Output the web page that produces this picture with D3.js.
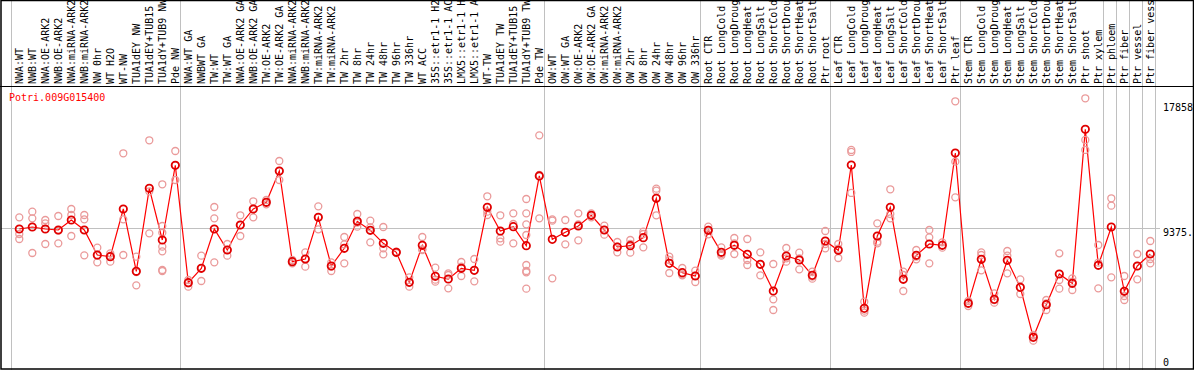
<!DOCTYPE html>
<html>
<head>
<meta charset="utf-8">
<script src="https://cdn.jsdelivr.net/npm/d3@7"></script>
<style>
  body { margin: 0; background: #fff; }
  text { font-family: "DejaVu Sans Mono", monospace; font-size: 10px; }
</style>
</head>
<body>
<div id="chart"></div>
<script>
const geneId = "Potri.009G015400";

const samples = [
  "NWA:WT", "NWB:WT", "NWA:OE-ARK2", "NWB:OE-ARK2", "NWA:miRNA-ARK2", "NWB:miRNA-ARK2",
  "NW 0hr", "WT H2O", "WT-NW", "TUA1dEY NW", "TUA1dEY+TUB15 NW", "TUA1dY+TUB9 NW", "Pde NW",
  "NWA:WT GA", "NWBWT GA", "TW:WT", "TW:WT GA", "NWA:OE-ARK2 GA", "NWB:OE-ARK2 GA",
  "TW:OE-ARK2", "TW:OE-ARK2 GA", "NWA:miRNA-ARK2", "NWB:miRNA-ARK2", "TW:miRNA-ARK2",
  "TW:miRNA-ARK2", "TW 2hr", "TW 8hr", "TW 24hr", "TW 48hr", "TW 96hr", "TW 336hr",
  "WT ACC", "35S::etr1-1 H2O", "35S::etr1-1 ACC", "LMX5::etr1-1 H2O", "LMX5::etr1-1 ACC",
  "WT-TW", "TUA1dEY TW", "TUA1dEY+TUB15 TW", "TUA1dY+TUB9 TW", "Pde TW",
  "OW:WT", "OW:WT GA", "OW:OE-ARK2", "OW:OE-ARK2 GA", "OW:miRNA-ARK2", "OW:miRNA-ARK2",
  "OW 2hr", "OW 8hr", "OW 24hr", "OW 48hr", "OW 96hr", "OW 336hr",
  "Root CTR", "Root LongCold", "Root LongDrought", "Root LongHeat", "Root LongSalt",
  "Root ShortCold", "Root ShortDrought", "Root ShortHeat", "Root ShortSalt", "Ptr root",
  "Leaf CTR", "Leaf LongCold", "Leaf LongDrought", "Leaf LongHeat", "Leaf LongSalt",
  "Leaf ShortCold", "Leaf ShortDrought", "Leaf ShortHeat", "Leaf ShortSalt", "Ptr leaf",
  "Stem CTR", "Stem LongCold", "Stem LongDrought", "Stem LongHeat", "Stem LongSalt",
  "Stem ShortCold", "Stem ShortDrought", "Stem ShortHeat", "Stem ShortSalt", "Ptr shoot",
  "Ptr xylem", "Ptr phloem", "Ptr fiber", "Ptr vessel", "Ptr fiber vessel"
];

const means = [
  9310, 9440, 9310, 9244, 9898, 9244, 7609, 7500, 10618, 6540, 11970, 8590, 13475,
  5799, 6736, 9310, 7936, 9571, 10618, 11054, 13104, 7172, 7347, 10073, 6889, 8045,
  9811, 9222, 8372, 7783, 5820, 8241, 6213, 6038, 6736, 6605, 10727, 9179, 9462, 8219, 12777,
  8633, 9091, 9506, 10204, 9244, 8132, 8219, 8743, 11316, 7063, 6453, 6235,
  9222, 7783, 8241, 7652, 6998, 5253, 7543, 7281, 6278, 8524,
  7914, 13496, 4119, 8852, 10727, 6017, 7587, 8328, 8241, 14281,
  4447, 7325, 4708, 7260, 5493, 2222, 4359, 6366, 5755, 15830,
  6933, 9440, 5232, 6889, 7674
];

const replicates = [
  [10073, 8982, 8655], [10443, 10007, 7739], [9898, 9680, 8328], [10160, 9200, 8372],
  [10618, 10225, 8852], [10225, 9942, 7587], [8088, 7565, 7129], [7718, 7565, 7172],
  [14260, 9942, 7609], [7500, 6496, 5624], [15110, 11774, 9026],
  [12232, 9506, 9070, 8154, 7848, 6627, 6562], [14412, 13475, 12515],
  [5973, 5755, 5537], [7565, 6736, 5908], [10749, 10007, 7129], [8328, 7936, 7565],
  [10204, 9571, 8852], [11120, 10618, 10073], [11207, 11054, 10923], [13758, 13104, 12515],
  [7281, 7172, 7063], [7783, 7347, 6845], [10792, 10073, 9288], [7129, 6845, 6562],
  [8786, 8306, 7063], [10291, 9724, 9462], [9855, 9418, 8437], [9440, 8045, 7652],
  [7827, 7783, 7739], [6148, 5820, 5537], [8786, 7979, 7936], [6780, 5995, 5864],
  [6409, 6300, 5428], [7151, 6845, 6235], [7347, 6605, 5886], [11447, 10443, 10225],
  [10204, 8699, 8481], [10334, 9637, 8372],
  [11272, 10334, 9615, 8917, 6954, 6562, 6475, 5406], [15437, 12842, 10007],
  [9942, 9855, 6082], [9898, 9091, 8306], [10334, 9615, 8568], [10334, 10204, 10073],
  [9528, 9244, 8939], [8459, 8154, 7783], [8590, 8328, 7761], [9135, 8982, 8110],
  [11948, 11817, 10204], [7500, 7281, 6431], [6758, 6344, 6278], [6584, 6256, 5842],
  [9462, 9244, 8961], [8110, 7652, 7565], [8721, 8372, 7674], [8655, 7281, 6954],
  [7783, 6998, 6278], [7020, 4708, 4010], [8067, 7391, 7172], [7761, 7391, 6671],
  [6518, 6191, 6060], [9179, 8328, 8045],
  [8328, 8023, 7412], [14478, 14347, 11665], [4556, 3967, 3836], [9680, 8481, 8372],
  [11905, 10291, 10007], [6518, 6300, 5253], [7936, 7500, 7325], [9244, 8764, 7063],
  [8437, 8263, 8088], [17662, 13715, 11381],
  [4599, 4447, 4272], [7783, 7609, 6605], [5101, 4665, 4490], [7870, 7565, 6409],
  [6017, 5472, 5057], [2375, 2266, 2004], [4665, 4447, 4010], [7718, 5973, 5406],
  [6082, 5864, 5319], [17858, 15132, 14478],
  [8263, 7107, 5428], [11316, 10836, 6148], [6235, 5253, 4926, 4665],
  [7674, 6889, 6017], [8524, 7347, 7063]
];

// last sample index of each block, a grey rule is drawn after it
const groupEnds = [-1, 12, 40, 52, 62, 72, 83, 84, 85, 86, 87];

const yTicks = [0, 9375, 17858];
const yTickLabels = ["0", "9375.", "17858"];

const width = 1194;
const height = 370;
const headerBottom = 86;

const svg = d3.select("#chart").append("svg")
  .attr("width", width)
  .attr("height", height)
  .style("display", "block");

svg.append("rect")
  .attr("width", width)
  .attr("height", height)
  .attr("fill", "#fff");

const x = d3.scalePoint()
  .domain(d3.range(samples.length))
  .range([19.3, 19.3 + 13 * (samples.length - 1)]);

const y = d3.scaleLinear()
  .domain([0, 17858])
  .range([371.3, 98.3]);

// grey block separators, full height
svg.selectAll("line.sep")
  .data(groupEnds)
  .enter()
  .append("line")
  .attr("class", "sep")
  .attr("x1", d => Math.round(x(0) + x.step() * d + 5) + 0.5)
  .attr("x2", d => Math.round(x(0) + x.step() * d + 5) + 0.5)
  .attr("y1", 0)
  .attr("y2", height)
  .attr("stroke", "#c0c0c0")
  .attr("stroke-width", 1);

// grid line at the middle tick
svg.append("line")
  .attr("x1", 1)
  .attr("x2", 1160)
  .attr("y1", Math.round(y(9375)) + 0.5)
  .attr("y2", Math.round(y(9375)) + 0.5)
  .attr("stroke", "#c0c0c0");

// frame
svg.append("rect")
  .attr("x", 1)
  .attr("y", 0.5)
  .attr("width", width - 1.5)
  .attr("height", height - 1.5)
  .attr("fill", "none")
  .attr("stroke", "#000")
  .attr("stroke-width", 1.5);

svg.append("line")
  .attr("x1", 0)
  .attr("x2", width)
  .attr("y1", headerBottom + 0.5)
  .attr("y2", headerBottom + 0.5)
  .attr("stroke", "#000");

// rotated sample names
svg.selectAll("text.sample")
  .data(samples)
  .enter()
  .append("text")
  .attr("class", "sample")
  .attr("transform", (d, i) => `translate(${x(i) + 3.7},${headerBottom - 2}) rotate(-90)`)
  .attr("fill", "#000")
  .text(d => d);

svg.append("text")
  .attr("x", 9)
  .attr("y", 101)
  .attr("fill", "#ff0000")
  .text(geneId);

svg.selectAll("text.ytick")
  .data(yTicks)
  .enter()
  .append("text")
  .attr("class", "ytick")
  .attr("x", 1163)
  .attr("y", d => Math.min(366, Math.max(111, y(d) + 8)))
  .attr("fill", "#000")
  .text((d, i) => yTickLabels[i]);

const line = d3.line()
  .x((d, i) => x(i))
  .y(d => y(d));

svg.append("path")
  .datum(means)
  .attr("d", line)
  .attr("fill", "none")
  .attr("stroke", "#ff0000")
  .attr("stroke-width", 1.2);

const repPoints = replicates.flatMap((vals, i) => vals.map(v => ({ i, v })));

svg.selectAll("circle.rep")
  .data(repPoints)
  .enter()
  .append("circle")
  .attr("class", "rep")
  .attr("cx", d => x(d.i))
  .attr("cy", d => y(d.v))
  .attr("r", 3.5)
  .attr("fill", "none")
  .attr("stroke", "#ea9a9a")
  .attr("stroke-width", 1.3);

svg.selectAll("circle.mean")
  .data(means)
  .enter()
  .append("circle")
  .attr("class", "mean")
  .attr("cx", (d, i) => x(i))
  .attr("cy", d => y(d))
  .attr("r", 3.7)
  .attr("fill", "none")
  .attr("stroke", "#e00000")
  .attr("stroke-width", 1.8);
</script>
</body>
</html>
